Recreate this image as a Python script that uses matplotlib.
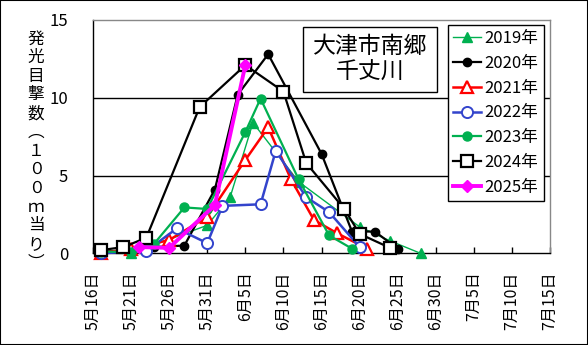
import matplotlib
matplotlib.use('Agg')
import matplotlib.pyplot as plt
from matplotlib.patches import Rectangle
import pandas as pd

plt.rcParams['font.family'] = ['Noto Sans CJK JP', 'DejaVu Sans']

START = pd.Timestamp('2025-05-16')

def to_days(dates):
    return [(pd.Timestamp('2025-' + d.replace('/', '-')) - START).days for d in dates]

# 発光目撃数（100m当り）
dates_2019 = ['5/17', '5/21', '5/31', '6/3', '6/6', '6/12', '6/20', '6/24', '6/28']
vals_2019 = [0.1, 0.0, 1.8, 3.6, 8.4, 4.6, 1.7, 0.8, 0.0]

dates_2020 = ['5/17', '5/21', '5/24', '5/28', '6/1', '6/4', '6/8', '6/15', '6/19', '6/22', '6/25']
vals_2020 = [0.1, 0.2, 0.4, 0.5, 4.1, 10.2, 12.8, 6.4, 1.4, 1.4, 0.3]

dates_2021 = ['5/17', '5/21', '5/26', '5/31', '6/5', '6/8', '6/11', '6/14', '6/17', '6/21']
vals_2021 = [0.0, 0.3, 0.85, 2.35, 6.0, 8.1, 4.75, 2.15, 1.3, 0.3]

dates_2022 = ['5/17', '5/23', '5/27', '5/31', '6/2', '6/7', '6/9', '6/13', '6/16', '6/20']
vals_2022 = [0.0, 0.15, 1.6, 0.65, 3.05, 3.15, 6.6, 3.6, 2.65, 0.4]

dates_2023 = ['5/17', '5/21', '5/24', '5/28', '5/31', '6/5', '6/7', '6/12', '6/16', '6/19']
vals_2023 = [0.1, 0.1, 0.6, 2.95, 2.85, 7.8, 9.95, 4.75, 1.15, 0.3]

dates_2024 = ['5/17', '5/20', '5/23', '5/30', '6/5', '6/10', '6/13', '6/18', '6/20', '6/24']
vals_2024 = [0.2, 0.4, 1.0, 9.4, 12.1, 10.4, 5.8, 2.85, 1.25, 0.35]

dates_2025 = ['5/22', '5/26', '6/1', '6/5']
vals_2025 = [0.4, 0.35, 3.1, 12.1]

tick_labels = ['5月16日', '5月21日', '5月26日', '5月31日', '6月5日', '6月10日', '6月15日',
               '6月20日', '6月25日', '6月30日', '7月5日', '7月10日', '7月15日']

GREEN = '#00B050'
BLUE = '#3344CC'

fig = plt.figure(figsize=(5.88, 3.45), dpi=100)
ax = fig.add_axes([93 / 588, 1 - 253.3 / 345, 457 / 588, 233.3 / 345])

ax.plot(to_days(dates_2019), vals_2019, color=GREEN, lw=1.0, marker='^', ms=7,
        mfc=GREEN, mec=GREEN, label='2019年', zorder=3, clip_on=False)
ax.plot(to_days(dates_2020), vals_2020, color='black', lw=1.6, marker='o', ms=6,
        mfc='black', mec='black', label='2020年', zorder=3, clip_on=False)
ax.plot(to_days(dates_2021), vals_2021, color='red', lw=1.8, marker='^', ms=9,
        mfc='white', mec='red', mew=1.6, label='2021年', zorder=4, clip_on=False)
ax.plot(to_days(dates_2022), vals_2022, color=BLUE, lw=1.8, marker='o', ms=8,
        mfc='white', mec=BLUE, mew=1.4, label='2022年', zorder=4, clip_on=False)
ax.plot(to_days(dates_2023), vals_2023, color=GREEN, lw=1.6, marker='o', ms=6.5,
        mfc=GREEN, mec=GREEN, label='2023年', zorder=4, clip_on=False)
ax.plot(to_days(dates_2024), vals_2024, color='black', lw=1.6, marker='s', ms=8,
        mfc='white', mec='black', mew=1.6, label='2024年', zorder=5, clip_on=False)
ax.plot(to_days(dates_2025), vals_2025, color='#FF00FF', lw=2.8, marker='D', ms=6.5,
        mfc='#FF00FF', mec='#FF00FF', label='2025年', zorder=6, clip_on=False)

ax.set_xlim(0, 60)
ax.set_ylim(0, 15)
ax.set_xticks(range(0, 61, 5))
ax.set_xticklabels(tick_labels, rotation=90, fontsize=11.5)
ax.set_yticks([0, 5, 10, 15])
ax.set_yticklabels(['0', '5', '10', '15'], fontsize=12)
ax.tick_params(axis='x', direction='in', length=4, width=1, pad=13)
ax.tick_params(axis='y', length=0, pad=18)

for v in (5, 10):
    ax.axhline(v, color='black', lw=1, zorder=1)

ax.spines['left'].set_color('black')
ax.spines['bottom'].set_color('black')
ax.spines['top'].set_color('#888888')
ax.spines['right'].set_color('#888888')
for s in ax.spines.values():
    s.set_linewidth(1)

leg = ax.legend(loc='upper left', bbox_to_anchor=(0.777, 0.979), fontsize=12,
                frameon=True, fancybox=False, framealpha=1, edgecolor='black',
                handlelength=1.7, handletextpad=0.2, labelspacing=0.47,
                borderpad=0.3, borderaxespad=0)
leg.get_frame().set_linewidth(1)
leg.set_zorder(10)

# place-name box
ax.add_patch(Rectangle((0.4595, 0.691), 0.2935, 0.279, transform=ax.transAxes,
                       facecolor='white', edgecolor='black', lw=1, zorder=8))
ax.text(0.606, 0.83, '大津市南郷\n千丈川', transform=ax.transAxes, ha='center',
        va='center', fontsize=16.5, linespacing=1.15, zorder=9)

ylabel = ['発', '光', '目', '撃', '数', '︵', '１', '０', '０', 'ｍ', '当', 'り', '︶']
fig.text(36 / 588, 1 - 151 / 345, '\n'.join(ylabel), ha='center', va='center',
         fontsize=12, linespacing=1.13)

fig.add_artist(Rectangle((0, 0), 1, 1, transform=fig.transFigure, fill=False,
                         edgecolor='black', lw=1.5))

fig.savefig('out.png', dpi=100)
